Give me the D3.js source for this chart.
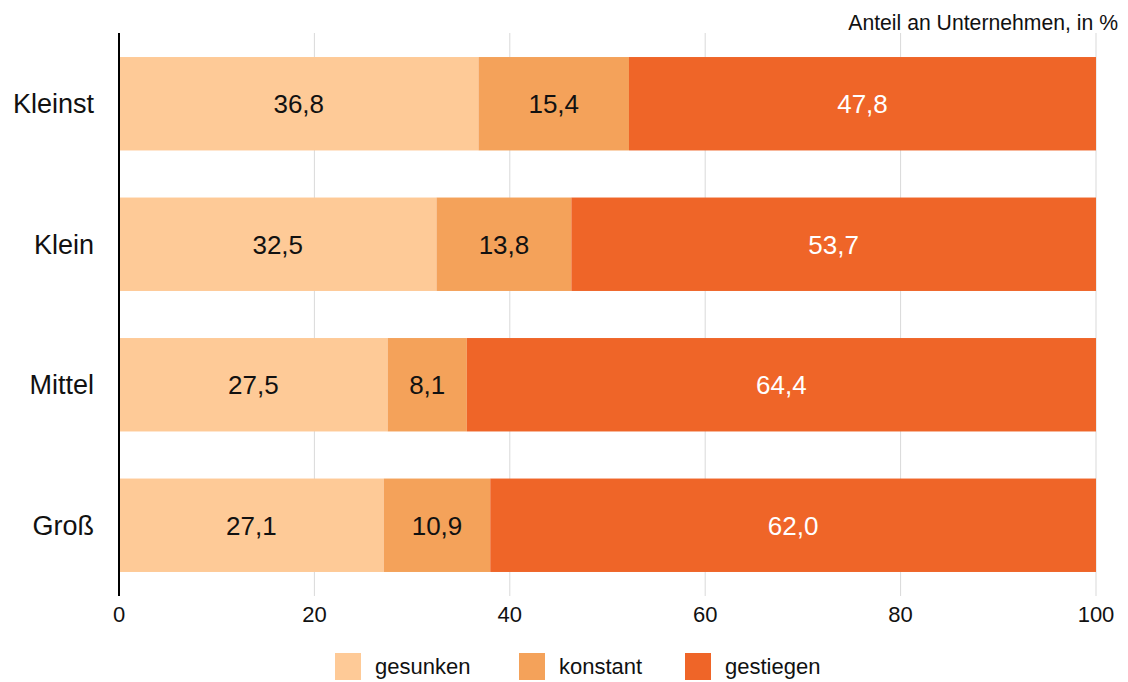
<!DOCTYPE html>
<html>
<head>
<meta charset="utf-8">
<script src="https://cdn.jsdelivr.net/npm/d3@7"></script>
<style>
  body { margin: 0; background: #fff; }
  text { font-family: "Liberation Sans", Arial, sans-serif; }
</style>
</head>
<body>
<svg id="chart" width="1128" height="682"></svg>
<script>
// DATA
var categories = ["Kleinst", "Klein", "Mittel", "Groß"];
var seriesNames = ["gesunken", "konstant", "gestiegen"];
var gesunken = [36.8, 32.5, 27.5, 27.1];
var konstant = [15.4, 13.8, 8.1, 10.9];
var gestiegen = [47.8, 53.7, 64.4, 62.0];
var xTicks = [0, 20, 40, 60, 80, 100];
var colors = ["#FECA97", "#F4A25A", "#EF6528"];
var labelColors = ["#111", "#111", "#fff"];

var rows = categories.map(function(c, i) {
    return { cat: c, gesunken: gesunken[i], konstant: konstant[i], gestiegen: gestiegen[i] };
});

var svg = d3.select("#chart");
var plotLeft = 119, plotRight = 1096, plotTop = 33, plotBottom = 596;

var x = d3.scaleLinear().domain([0, 100]).range([plotLeft, plotRight]);
var y = d3.scaleBand().domain(categories).range([plotTop, plotBottom])
    .paddingInner(0.335).paddingOuter(0.171);

// GRID
svg.append("g").selectAll("line")
    .data(xTicks.slice(1))
    .enter().append("line")
    .attr("x1", function(d) { return x(d); })
    .attr("x2", function(d) { return x(d); })
    .attr("y1", plotTop).attr("y2", plotBottom)
    .attr("stroke", "#d9d9d9").attr("stroke-width", 1);

// STACKS
var stack = d3.stack().keys(seriesNames)(rows);

var layers = svg.append("g").selectAll("g")
    .data(stack)
    .enter().append("g")
    .attr("fill", function(d, i) { return colors[i]; });

layers.selectAll("rect")
    .data(function(d) { return d; })
    .enter().append("rect")
    .attr("x", function(d) { return x(d[0]); })
    .attr("width", function(d) { return x(d[1]) - x(d[0]); })
    .attr("y", function(d) { return y(d.data.cat); })
    .attr("height", y.bandwidth());

// VALUE LABELS
stack.forEach(function(layer, i) {
    svg.append("g").selectAll("text")
        .data(layer)
        .enter().append("text")
        .attr("x", function(d) { return (x(d[0]) + x(d[1])) / 2; })
        .attr("y", function(d) { return y(d.data.cat) + y.bandwidth() / 2; })
        .attr("dy", "0.36em")
        .attr("text-anchor", "middle")
        .attr("font-size", 26)
        .attr("fill", labelColors[i])
        .text(function(d) { return (d[1] - d[0]).toFixed(1).replace(".", ","); });
});

// Y AXIS
svg.append("line")
    .attr("x1", plotLeft).attr("x2", plotLeft)
    .attr("y1", plotTop).attr("y2", plotBottom)
    .attr("stroke", "#000").attr("stroke-width", 2);

svg.append("g").selectAll("text")
    .data(categories)
    .enter().append("text")
    .attr("x", 94)
    .attr("y", function(d) { return y(d) + y.bandwidth() / 2; })
    .attr("dy", "0.36em")
    .attr("text-anchor", "end")
    .attr("font-size", 27)
    .attr("fill", "#111")
    .text(function(d) { return d; });

// X TICK LABELS
svg.append("g").selectAll("text")
    .data(xTicks)
    .enter().append("text")
    .attr("x", function(d) { return x(d); })
    .attr("y", 622)
    .attr("text-anchor", "middle")
    .attr("font-size", 22)
    .attr("fill", "#111")
    .text(function(d) { return d; });

// UNIT LABEL
svg.append("text")
    .attr("x", 1118).attr("y", 30)
    .attr("text-anchor", "end")
    .attr("font-size", 21.2)
    .attr("fill", "#111")
    .text("Anteil an Unternehmen, in %");

// LEGEND
var legendX = [335, 519, 685];
var legend = svg.append("g").selectAll("g")
    .data(seriesNames)
    .enter().append("g")
    .attr("transform", function(d, i) { return "translate(" + legendX[i] + ",653)"; });
legend.append("rect")
    .attr("width", 26).attr("height", 27)
    .attr("fill", function(d, i) { return colors[i]; });
legend.append("text")
    .attr("x", 40).attr("y", 21)
    .attr("font-size", 22)
    .attr("fill", "#111")
    .text(function(d) { return d; });
</script>
</body>
</html>
